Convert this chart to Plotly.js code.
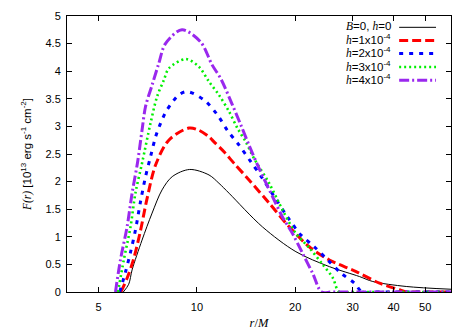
<!DOCTYPE html>
<html>
<head>
<meta charset="utf-8">
<script src="https://cdn.plot.ly/plotly-3.0.1.min.js"></script>
<style>html,body{margin:0;padding:0;background:#fff;}#chart{width:474px;height:332px;}</style>
</head>
<body>
<div id="chart"></div>
<script>
// ---- data ----
const rB0 = [5.95, 6.18, 6.33, 6.79, 7.29, 7.82, 8.40, 9.50, 10.89, 11.68, 12.54, 15.87, 20.10, 25.44, 31.46, 34.57, 43.76, 60.0];
const FB0 = [0, 0.14, 0.40, 0.94, 1.43, 1.85, 2.09, 2.22, 2.12, 1.97, 1.79, 1.18, 0.73, 0.46, 0.28, 0.19, 0.10, 0.05];

const rH1 = [5.85, 6.11, 6.40, 6.71, 7.04, 7.47, 8.20, 9.45, 10.14, 10.89, 11.28, 12.10, 13.00, 14.44, 16.64, 19.17, 22.08, 25.44, 30.73, 36.24, 41.75, 43.8, 48, 60];
const FH1 = [0, 0.25, 0.60, 1.10, 1.70, 2.30, 2.75, 2.97, 2.93, 2.81, 2.72, 2.54, 2.33, 2.03, 1.61, 1.18, 0.82, 0.58, 0.37, 0.16, 0.04, 0, 0, 0];

const rH2 = [5.80, 6.04, 6.26, 6.48, 6.71, 6.96, 7.21, 7.47, 7.82, 8.10, 8.80, 9.34, 10.51, 11.55, 12.39, 13.46, 14.62, 15.87, 17.24, 18.94, 20.83, 22.88, 25.14, 27.64, 30.36, 32.1, 36, 60];
const FH2 = [0, 0.36, 0.72, 1.12, 1.62, 2.09, 2.45, 2.81, 3.12, 3.30, 3.57, 3.63, 3.48, 3.21, 2.93, 2.66, 2.36, 2.06, 1.73, 1.36, 1.03, 0.82, 0.58, 0.34, 0.16, 0, 0, 0];

const rH3 = [5.73, 5.97, 6.26, 6.48, 6.80, 7.21, 7.55, 7.92, 8.20, 9.25, 10.14, 10.89, 11.68, 12.54, 13.30, 14.11, 14.96, 16.64, 18.28, 20.10, 22.08, 24.26, 26.05, 27.3, 31, 60];
const FH3 = [0, 0.58, 1.18, 1.79, 2.35, 3.06, 3.54, 3.84, 4.05, 4.22, 4.08, 3.81, 3.57, 3.27, 2.97, 2.72, 2.42, 1.97, 1.49, 1.06, 0.80, 0.50, 0.26, 0, 0, 0];

const rH4 = [5.63, 5.83, 6.11, 6.33, 6.58, 6.79, 6.96, 7.29, 7.64, 8.01, 9.0, 10.26, 11.14, 11.82, 12.84, 13.62, 14.44, 15.50, 17.04, 18.28, 19.62, 21.07, 22.61, 24.1, 26, 60];
const FH4 = [0, 0.58, 1.18, 1.79, 2.35, 2.93, 3.36, 3.75, 4.14, 4.50, 4.75, 4.53, 4.11, 3.87, 3.39, 3.03, 2.66, 2.24, 1.73, 1.36, 1.06, 0.70, 0.34, 0, 0, 0];

const xTicks = [5, 10, 20, 30, 40, 50];
const xTickText = ['5', '10', '20', '30', '40', '50'];

const SERIF = 'font-family:Liberation Serif;font-style:italic';
const it = s => '<span style="' + SERIF + '">' + s + '</span>';
const seriesNames = [
  it('B') + '=0, ' + it('h') + '=0',
  it('h') + '=1x10<sup>-4</sup>',
  it('h') + '=2x10<sup>-4</sup>',
  it('h') + '=3x10<sup>-4</sup>',
  it('h') + '=4x10<sup>-4</sup>'
];

// ---- styles ----
const styles = [
  {color: '#000000', width: 1, dash: 'solid'},
  {color: '#ff0000', width: 3, dash: '9px,4px'},
  {color: '#0000ff', width: 3, dash: '4px,6px'},
  {color: '#00f000', width: 2.6, dash: '2px,3px'},
  {color: '#9a28ee', width: 3, dash: '10px,3px,2px,3px'}
];
const xs = [rB0, rH1, rH2, rH3, rH4];
const ys = [FB0, FH1, FH2, FH3, FH4];

const traces = xs.map((x, i) => ({
  x: x, y: ys[i], mode: 'lines', type: 'scatter',
  line: {color: styles[i].color, width: styles[i].width, dash: styles[i].dash, shape: 'spline', smoothing: 0.9},
  hoverinfo: 'skip'
}));

// legend (gnuplot style: text right-aligned, sample on the right)
const legY = [0.964, 0.916, 0.869, 0.820, 0.772];
const annotations = seriesNames.map((t, i) => ({
  xref: 'paper', yref: 'paper', x: 0.849, y: legY[i], xanchor: 'right', yanchor: 'middle',
  text: t, showarrow: false, font: {family: 'Liberation Sans', size: 11.5, color: '#000'}
}));
const shapes = styles.map((s, i) => ({
  type: 'line', xref: 'paper', yref: 'paper', x0: 0.865, x1: 0.961, y0: legY[i] - 0.005, y1: legY[i] - 0.005,
  line: {color: s.color, width: s.width, dash: s.dash}
}));

const layout = {
  width: 474, height: 332,
  margin: {l: 67, r: 23, t: 16, b: 40, pad: 0},
  paper_bgcolor: '#fff', plot_bgcolor: '#fff',
  showlegend: false,
  xaxis: {
    type: 'log', range: [Math.log10(4), Math.log10(60)],
    tickmode: 'array', tickvals: xTicks, ticktext: xTickText,
    ticks: 'inside', ticklen: 5, tickwidth: 1, tickcolor: '#000',
    showline: true, linecolor: '#000', linewidth: 1, mirror: 'ticks',
    showgrid: false, zeroline: false, ticklabelstandoff: 5,
    tickfont: {family: 'Liberation Sans', size: 11, color: '#000'},
    title: {text: it('r') + '/' + it('M'), font: {family: 'Liberation Serif', size: 12.5, color: '#000'}, standoff: 6}
  },
  yaxis: {
    range: [0, 5], tick0: 0, dtick: 0.5,
    ticks: 'inside', ticklen: 5, tickwidth: 1, tickcolor: '#000',
    showline: true, linecolor: '#000', linewidth: 1, mirror: 'ticks',
    showgrid: false, zeroline: false, ticklabelstandoff: 3,
    tickfont: {family: 'Liberation Sans', size: 11, color: '#000'},
    title: {text: it('F(r)') + ' [10<sup>13</sup> erg s<sup>-1</sup> cm<sup>-2</sup>]', font: {family: 'Liberation Sans', size: 11.5, color: '#000'}, standoff: 11}
  },
  annotations: annotations,
  shapes: shapes
};

Plotly.newPlot('chart', traces, layout, {staticPlot: true, displayModeBar: false});
</script>
</body>
</html>
